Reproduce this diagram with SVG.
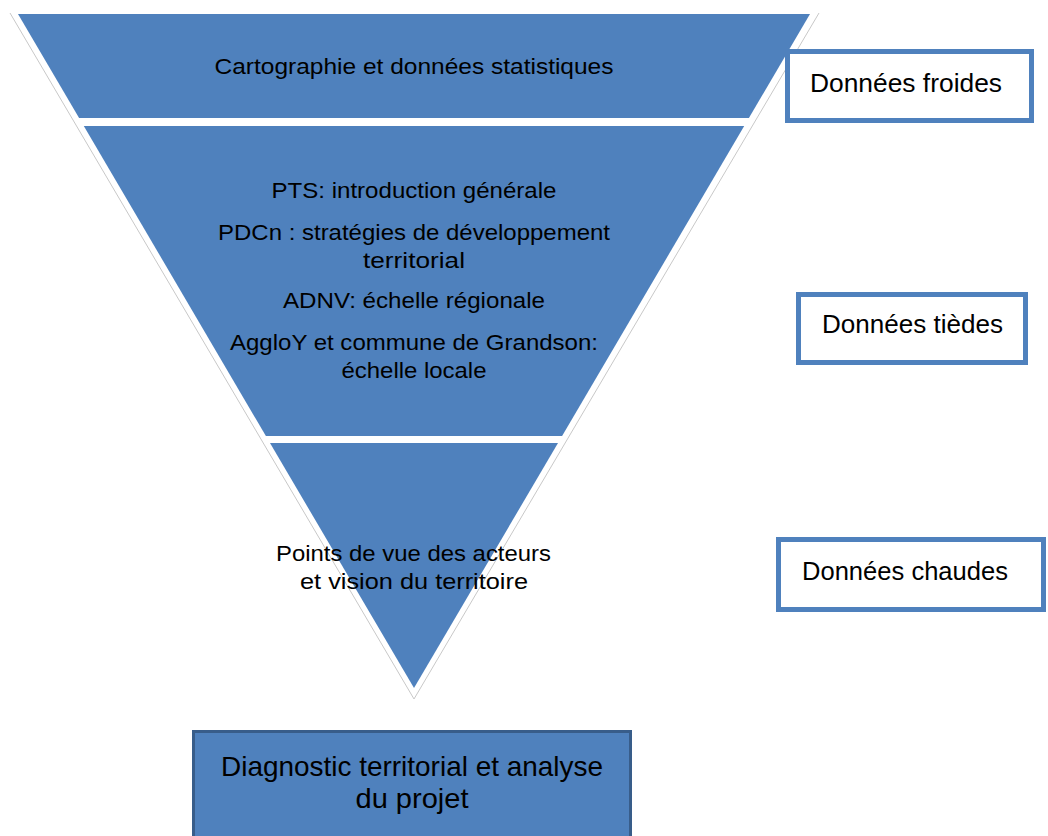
<svg xmlns="http://www.w3.org/2000/svg" width="1048" height="836" viewBox="0 0 1048 836">
<style>
.band{fill:#4F81BD;}
.t{font-family:"Liberation Sans",Arial,sans-serif;fill:#000;text-anchor:middle;}
.tb{font-size:22px;}
.lbl{fill:#fff;stroke:#4F81BD;stroke-width:5;}
.lt{font-family:"Liberation Sans",Arial,sans-serif;font-size:26px;fill:#000;}
</style>
<rect width="1048" height="836" fill="#fff"/>
<polyline points="10,13 414,699 819,13" fill="none" stroke="#c8c8c8" stroke-width="1"/>
<g id="band1">
<polygon class="band" points="18,14 810,14 748.9,118 79.1,118"/>
<text class="t tb" x="414" y="74" textLength="399" lengthAdjust="spacingAndGlyphs">Cartographie et données statistiques</text>
</g>
<g id="band2">
<polygon class="band" points="83.8,126 744.2,126 562.1,436 265.9,436"/>
<text class="t tb" x="414" y="198" textLength="285" lengthAdjust="spacingAndGlyphs">PTS: introduction générale</text>
<text class="t tb" x="414" y="240" textLength="392" lengthAdjust="spacingAndGlyphs">PDCn : stratégies de développement</text>
<text class="t tb" x="414" y="268" textLength="102" lengthAdjust="spacingAndGlyphs">territorial</text>
<text class="t tb" x="414" y="308" textLength="262" lengthAdjust="spacingAndGlyphs">ADNV: échelle régionale</text>
<text class="t tb" x="414" y="350" textLength="368" lengthAdjust="spacingAndGlyphs">AggloY et commune de Grandson:</text>
<text class="t tb" x="414" y="378" textLength="145" lengthAdjust="spacingAndGlyphs">échelle locale</text>
</g>
<g id="band3">
<polygon class="band" points="270,443 558,443 414,688"/>
<text class="t tb" x="413.5" y="561" textLength="275" lengthAdjust="spacingAndGlyphs">Points de vue des acteurs</text>
<text class="t tb" x="414" y="589" textLength="228" lengthAdjust="spacingAndGlyphs">et vision du territoire</text>
</g>
<g id="froides">
<rect class="lbl" x="787.5" y="51.5" width="244" height="69"/>
<text class="lt" x="810" y="92" textLength="192" lengthAdjust="spacingAndGlyphs">Données froides</text>
</g>
<g id="tiedes">
<rect class="lbl" x="798.5" y="294.5" width="227" height="68"/>
<text class="lt" x="822" y="333" textLength="181" lengthAdjust="spacingAndGlyphs">Données tièdes</text>
</g>
<g id="chaudes">
<rect class="lbl" x="778.5" y="539.5" width="265" height="70"/>
<text class="lt" x="802" y="580" textLength="206" lengthAdjust="spacingAndGlyphs">Données chaudes</text>
</g>
<g id="diagnostic">
<rect x="193.5" y="731.5" width="437" height="120" fill="#4F81BD" stroke="#385D8A" stroke-width="3"/>
<text class="t" style="font-size:28px" x="412" y="776" textLength="382" lengthAdjust="spacingAndGlyphs">Diagnostic territorial et analyse</text>
<text class="t" style="font-size:28px" x="412" y="808" textLength="113" lengthAdjust="spacingAndGlyphs">du projet</text>
</g>
<g id="connectors"></g>
</svg>
